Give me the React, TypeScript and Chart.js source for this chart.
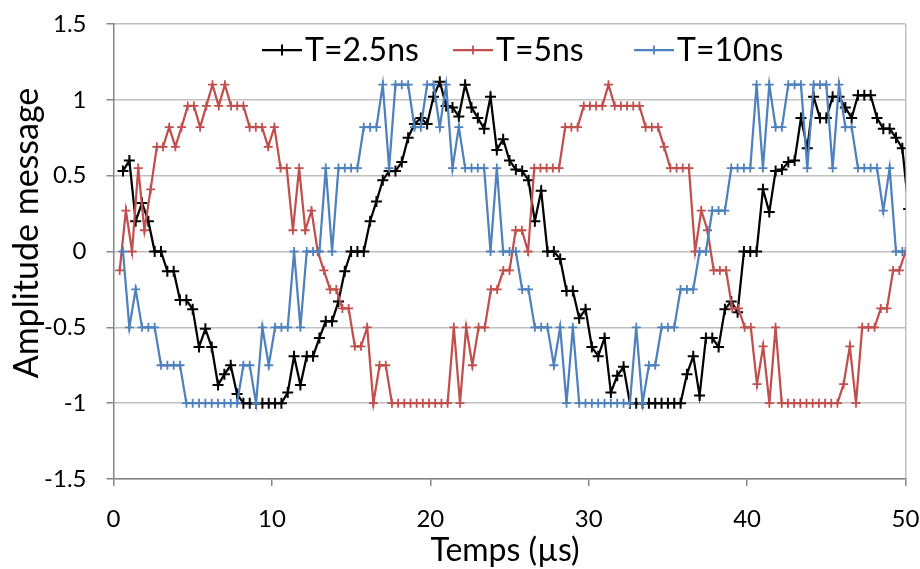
import React, { useEffect, useRef } from "react";
import { Chart, registerables } from "chart.js";

Chart.register(...registerables);

const FONT = "Lato, 'Liberation Sans', sans-serif";

const seriesLabels = ["T=2.5ns", "T=5ns", "T=10ns"];
const seriesColors = ["#000000", "#C0504D", "#4F81BD"];
const xTitle = "Temps (µs)";
const yTitle = "Amplitude message";

// sampling grids (µs)
const RED_COUNT = 128;
const RED_STEP = 50 / RED_COUNT;
const STEP_04 = 0.4;
const OFFSET_04 = 0.2;

const xTickValues = [0, 10, 20, 30, 40, 50];
const yTickValues = [-1.5, -1, -0.5, 0, 0.5, 1, 1.5];

// T=2.5ns (black), samples at 0.2 + 0.4*j µs
const blackValues = [
  0.53, 0.6, 0.2, 0.32, 0.2, 0, 0, -0.13, -0.13, -0.32,
  -0.32, -0.38, -0.63, -0.51, -0.63, -0.88, -0.81, -0.75, -0.94, -1,
  -1, -1, -1, -1, -1, -1, -0.93, -0.69, -0.88, -0.69,
  -0.69, -0.57, -0.46, -0.46, -0.33, -0.13, 0, 0, 0, 0.2,
  0.33, 0.47, 0.53, 0.53, 0.59, 0.75, 0.84, 0.88, 0.84, 1.02,
  1.12, 0.96, 0.95, 0.89, 1.1, 0.95, 0.88, 0.81, 1.02, 0.67,
  0.74, 0.6, 0.54, 0.53, 0.47, 0.2, 0.4, 0, 0, -0.05,
  -0.26, -0.26, -0.44, -0.38, -0.63, -0.69, -0.57, -0.93, -0.82, -0.76,
  -1, -1, -1, -1, -1, -1, -1, -1, -1, -0.81,
  -0.69, -0.95, -0.57, -0.57, -0.63, -0.38, -0.33, -0.4, 0, 0,
  0, 0.41, 0.26, 0.53, 0.54, 0.59, 0.6, 0.88, 0.68, 1.02,
  0.88, 0.88, 1.02, 1.02, 0.95, 0.88, 1.03, 1.03, 1.03, 0.88,
  0.81, 0.81, 0.75, 0.68, 0.28,
];

// T=5ns (red), samples at k*50/128 µs
const redValues = [
  -0.125, 0.27, 0, 0.55, 0.14, 0.41, 0.69, 0.69, 0.82, 0.69,
  0.82, 0.96, 0.96, 0.82, 0.96, 1.1, 0.96, 1.1, 0.96, 0.96,
  0.96, 0.82, 0.82, 0.82, 0.69, 0.82, 0.55, 0.55, 0.14, 0.55,
  0.14, 0.27, 0, -0.125, -0.25, -0.25, -0.375, -0.375, -0.625, -0.625,
  -0.5, -1, -0.75, -0.75, -1, -1, -1, -1, -1, -1,
  -1, -1, -1, -1, -0.5, -1, -0.5, -0.75, -0.5, -0.5,
  -0.25, -0.25, -0.125, -0.125, 0.14, 0.14, 0, 0.55, 0.55, 0.55,
  0.55, 0.55, 0.82, 0.82, 0.82, 0.96, 0.96, 0.96, 0.96, 1.1,
  0.96, 0.96, 0.96, 0.96, 0.96, 0.82, 0.82, 0.82, 0.69, 0.55,
  0.55, 0.55, 0.55, 0, 0.27, 0.14, -0.125, -0.125, -0.125, -0.375,
  -0.375, -0.5, -0.5, -0.875, -0.625, -1, -0.5, -1, -1, -1,
  -1, -1, -1, -1, -1, -1, -1, -0.875, -0.625, -1,
  -0.5, -0.5, -0.5, -0.375, -0.375, -0.125, -0.125, 0,
];

// T=10ns (blue), samples at 0.2 + 0.4*j µs
const blueValues = [
  0, -0.5, -0.25, -0.5, -0.5, -0.5, -0.75, -0.75, -0.75, -0.75,
  -1, -1, -1, -1, -1, -1, -1, -1, -1, -0.75,
  -0.75, -1, -0.5, -0.75, -0.5, -0.5, -0.5, 0, -0.5, 0,
  0, 0, 0.55, 0, 0.55, 0.55, 0.55, 0.55, 0.82, 0.82,
  0.82, 1.1, 0.55, 1.1, 1.1, 1.1, 0.82, 0.82, 1.1, 1.1,
  0.82, 1.1, 0.55, 0.82, 0.55, 0.55, 0.55, 0.55, 0, 0.55,
  0, 0, 0, -0.25, -0.25, -0.5, -0.5, -0.5, -0.75, -0.5,
  -1, -0.5, -1, -1, -1, -1, -1, -1, -1, -1,
  -1, -0.5, -1, -0.75, -0.75, -0.5, -0.5, -0.5, -0.25, -0.25,
  -0.25, 0, 0, 0.27, 0.27, 0.27, 0.55, 0.55, 0.55, 0.55,
  1.1, 0.55, 1.1, 0.82, 0.82, 1.1, 1.1, 1.1, 0.55, 1.1,
  1.1, 1.1, 0.55, 1.1, 0.82, 0.82, 0.55, 0.55, 0.55, 0.55,
  0.27, 0.55, 0, 0, 0,
];

const redTimes = redValues.map((_, i) => (i + 1) * RED_STEP);
const blackTimes = blackValues.map((_, i) => OFFSET_04 + (i + 1) * STEP_04);
const blueTimes = blueValues.map((_, i) => OFFSET_04 + (i + 1) * STEP_04);

const toPoints = (times: number[], vals: number[]) =>
  vals.map((v, i) => ({ x: times[i], y: v }));

const annotationsPlugin = {
  id: "inlineLegendAndTitles",
  afterDraw(chart: any) {
    const ctx = chart.ctx as CanvasRenderingContext2D;
    ctx.save();
    ctx.font = `32px ${FONT}`;
    ctx.fillStyle = "#000";

    // legend inside the plot area
    const starts = [262, 453, 634];
    const y = 50;
    ctx.textBaseline = "alphabetic";
    ctx.textAlign = "left";
    chart.data.datasets.forEach((ds: any, i: number) => {
      const sx = starts[i];
      ctx.strokeStyle = ds.borderColor;
      ctx.lineWidth = 2.25;
      ctx.beginPath();
      ctx.moveTo(sx, y);
      ctx.lineTo(sx + 40, y);
      ctx.stroke();
      const r = ds.pointRadius;
      ctx.lineWidth = ds.pointBorderWidth;
      ctx.beginPath();
      ctx.moveTo(sx + 20, y - r);
      ctx.lineTo(sx + 20, y + r);
      ctx.moveTo(sx + 20 - r, y);
      ctx.lineTo(sx + 20 + r, y);
      ctx.stroke();
      ctx.fillText(ds.label, sx + 43, 61);
    });

    // axis titles
    ctx.textAlign = "center";
    ctx.textBaseline = "alphabetic";
    ctx.fillText(xTitle, 505, 561);
    ctx.font = `34px ${FONT}`;
    ctx.translate(38, 233);
    ctx.rotate(-Math.PI / 2);
    ctx.fillText(yTitle, 0, 0);
    ctx.restore();
  },
};

export default function App() {
  const canvasRef = useRef<HTMLCanvasElement | null>(null);

  useEffect(() => {
    document.body.style.margin = "0";
    const canvas = canvasRef.current;
    if (!canvas) return;
    const chart = new Chart(canvas, {
      type: "line",
      data: {
        datasets: [
          {
            label: seriesLabels[0],
            data: toPoints(blackTimes, blackValues),
            borderColor: seriesColors[0],
            backgroundColor: seriesColors[0],
            borderWidth: 2.25,
            pointStyle: "cross",
            pointRadius: 5.5,
            pointBorderWidth: 2,
            pointBorderColor: seriesColors[0],
            tension: 0,
            fill: false,
            order: 2,
          },
          {
            label: seriesLabels[1],
            data: toPoints(redTimes, redValues),
            borderColor: seriesColors[1],
            backgroundColor: seriesColors[1],
            borderWidth: 2.25,
            pointStyle: "cross",
            pointRadius: 4.5,
            pointBorderWidth: 1.8,
            pointBorderColor: seriesColors[1],
            tension: 0,
            fill: false,
            order: 1,
          },
          {
            label: seriesLabels[2],
            data: toPoints(blueTimes, blueValues),
            borderColor: seriesColors[2],
            backgroundColor: seriesColors[2],
            borderWidth: 2.25,
            pointStyle: "cross",
            pointRadius: 4.5,
            pointBorderWidth: 1.8,
            pointBorderColor: seriesColors[2],
            tension: 0,
            fill: false,
            order: 0,
          },
        ],
      },
      options: {
        responsive: false,
        animation: false,
        devicePixelRatio: 1,
        events: [],
        layout: { padding: { left: 0, right: 14.5, top: 24, bottom: 0 } },
        plugins: {
          legend: { display: false },
          tooltip: { enabled: false },
        },
        scales: {
          x: {
            type: "linear",
            min: 0,
            max: 50,
            afterFit: (s: any) => {
              s.height = 90;
              s.paddingLeft = 0;
              s.paddingRight = 0;
            },
            afterBuildTicks: (s: any) => {
              s.ticks = xTickValues.map((v) => ({ value: v }));
            },
            ticks: {
              font: { family: FONT, size: 24 },
              color: "#000",
              padding: 19,
              maxRotation: 0,
              autoSkip: false,
              callback: (v: any) => String(v),
            },
            grid: {
              color: (c: any) =>
                c.tick && c.tick.value === 50 ? "#BFBFBF" : "rgba(0,0,0,0)",
              lineWidth: 1.5,
              drawTicks: true,
              tickLength: 7,
              tickColor: "#868686",
              tickWidth: 1.5,
            },
            border: { display: true, color: "#868686", width: 1.5 },
            title: { display: false, text: xTitle },
          },
          y: {
            type: "linear",
            min: -1.5,
            max: 1.5,
            afterFit: (s: any) => {
              s.width = 113.5;
              s.paddingTop = 0;
              s.paddingBottom = 0;
            },
            afterBuildTicks: (s: any) => {
              s.ticks = yTickValues.map((v) => ({ value: v }));
            },
            ticks: {
              font: { family: FONT, size: 24 },
              color: "#000",
              padding: 20,
              autoSkip: false,
              callback: (v: any) => String(v),
            },
            grid: {
              color: "#BFBFBF",
              lineWidth: 1.5,
              drawTicks: true,
              tickLength: 7,
              tickColor: "#868686",
              tickWidth: 1.5,
            },
            border: { display: true, color: "#868686", width: 1.5 },
            title: { display: false, text: yTitle },
          },
        },
      },
      plugins: [annotationsPlugin],
    });
    return () => {
      chart.destroy();
    };
  }, []);

  return (
    <div style={{ position: "absolute", left: 0, top: 0, width: 920, height: 569, background: "#fff" }}>
      <canvas ref={canvasRef} width={920} height={569} style={{ width: 920, height: 569, display: "block" }} />
    </div>
  );
}
